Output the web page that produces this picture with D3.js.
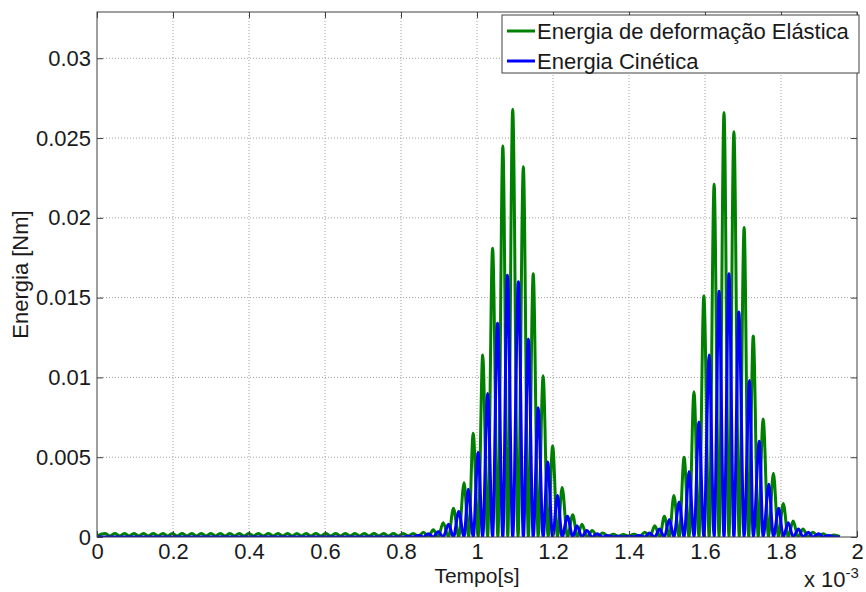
<!DOCTYPE html>
<html>
<head>
<meta charset="utf-8">
<script src="https://cdn.jsdelivr.net/npm/d3@7"></script>
<style>
  html, body { margin: 0; padding: 0; background: #fff; }
  svg { display: block; }
  text { font-family: "Liberation Sans", Arial, Helvetica, sans-serif; fill: #1a1a1a; }
</style>
</head>
<body>
<svg id="chart" width="866" height="592"></svg>
<script>
// ---------- DATA (time in units of 1e-3 s, energy in Nm) ----------
const xTicks = [0, 0.2, 0.4, 0.6, 0.8, 1, 1.2, 1.4, 1.6, 1.8, 2];
const xTickLabels = ["0", "0.2", "0.4", "0.6", "0.8", "1", "1.2", "1.4", "1.6", "1.8", "2"];
const yTicks = [0, 0.005, 0.01, 0.015, 0.02, 0.025, 0.03];
const yTickLabels = ["0", "0.005", "0.01", "0.015", "0.02", "0.025", "0.03"];
const seriesNames = ["Energia de deformação Elástica", "Energia Cinética"];

// Elastic (strain) energy: local maxima
const elasticPeakTime = [
  0.021, 0.047, 0.072, 0.097, 0.122, 0.148, 0.173, 0.198, 0.224, 0.249, 0.274, 0.300,
  0.324, 0.350, 0.374, 0.400, 0.424, 0.451, 0.476, 0.501, 0.526, 0.550, 0.576, 0.602,
  0.628, 0.653, 0.679, 0.703, 0.729, 0.754, 0.780, 0.806,
  0.832, 0.859, 0.885, 0.911, 0.938, 0.966, 0.990, 1.015, 1.041, 1.068, 1.094, 1.122,
  1.148, 1.174, 1.199, 1.224, 1.252, 1.276, 1.303, 1.331, 1.359, 1.385, 1.413, 1.442,
  1.468, 1.493, 1.518, 1.545, 1.571, 1.597, 1.624, 1.650, 1.676, 1.703, 1.727, 1.753,
  1.780, 1.806, 1.832, 1.858, 1.884, 1.911, 1.939
];
const elasticPeakEnergy = [
  0.00022, 0.00022, 0.00022, 0.00022, 0.00022, 0.00022, 0.00022, 0.00022, 0.00022, 0.00022, 0.00022, 0.00022,
  0.00022, 0.00022, 0.00022, 0.00022, 0.00022, 0.00022, 0.00022, 0.00022, 0.00022, 0.00022, 0.00022, 0.00022,
  0.00022, 0.00022, 0.00022, 0.00022, 0.00022, 0.00022, 0.00022, 0.00022,
  0.00022, 0.0003, 0.00045, 0.0009, 0.0018, 0.0034, 0.0065, 0.0114, 0.0181, 0.0245, 0.0268, 0.0232,
  0.0165, 0.0101, 0.0057, 0.0031, 0.0014, 0.0008, 0.0004, 0.00025, 0.00018, 0.00015, 0.00018, 0.0003,
  0.0007, 0.0013, 0.0026, 0.0050, 0.0091, 0.0151, 0.0221, 0.0266, 0.0254, 0.0194, 0.0126, 0.0074,
  0.0040, 0.0021, 0.0010, 0.0005, 0.0003, 0.0002, 0.00012
];
// Elastic energy: local minima
const elasticTroughTime = [
  0.000, 0.034, 0.060, 0.085, 0.110, 0.135, 0.161, 0.186, 0.211, 0.237, 0.262, 0.287,
  0.312, 0.337, 0.362, 0.387, 0.412, 0.438, 0.464, 0.489, 0.514, 0.538, 0.563, 0.589,
  0.615, 0.641, 0.666, 0.691, 0.716, 0.742, 0.767, 0.793, 0.819,
  0.846, 0.872, 0.898, 0.925, 0.952, 0.978, 1.003, 1.028, 1.055, 1.081, 1.108, 1.135,
  1.161, 1.187, 1.212, 1.238, 1.264, 1.290, 1.317, 1.345, 1.372, 1.399, 1.428, 1.455,
  1.481, 1.506, 1.532, 1.558, 1.584, 1.611, 1.637, 1.663, 1.690, 1.715, 1.740, 1.767,
  1.793, 1.819, 1.845, 1.871, 1.898, 1.925, 1.955
];
const elasticTroughEnergy = [
  0.00007, 0.00007, 0.00007, 0.00007, 0.00007, 0.00007, 0.00007, 0.00007, 0.00007, 0.00007, 0.00007, 0.00007,
  0.00007, 0.00007, 0.00007, 0.00007, 0.00007, 0.00007, 0.00007, 0.00007, 0.00007, 0.00007, 0.00007, 0.00007,
  0.00007, 0.00007, 0.00007, 0.00007, 0.00007, 0.00007, 0.00007, 0.00007, 0.00006,
  0.00004, 0.00002, 0, 0, 0, 0, 0, 0, 0, 0, 0, 0,
  0, 0, 0, 0, 0, 0, 0.00002, 0.00004, 0.00005, 0.00005, 0.00004, 0.00002,
  0, 0, 0, 0, 0, 0, 0, 0, 0, 0, 0, 0,
  0, 0, 0, 0.00002, 0.00003, 0.00003, 0.00003
];

// Kinetic energy: local maxima
const kineticPeakTime = [
  0.819, 0.846, 0.872, 0.898, 0.925, 0.952, 0.977, 1.003, 1.028, 1.054, 1.080, 1.109,
  1.135, 1.161, 1.186, 1.212, 1.238, 1.263, 1.289, 1.316, 1.342, 1.370, 1.399, 1.426,
  1.453, 1.480, 1.506, 1.532, 1.558, 1.584, 1.611, 1.637, 1.663, 1.689, 1.717, 1.743,
  1.768, 1.794, 1.819, 1.846, 1.872, 1.899, 1.926
];
const kineticPeakEnergy = [
  0.00005, 0.0001, 0.0002, 0.00035, 0.0008, 0.0016, 0.0030, 0.0053, 0.0090, 0.0134, 0.0164, 0.0160,
  0.0124, 0.0081, 0.0047, 0.0026, 0.0013, 0.0007, 0.0004, 0.0002, 0.0001, 0.00005, 0.00005, 0.0001,
  0.00025, 0.0005, 0.0011, 0.0022, 0.0041, 0.0072, 0.0114, 0.0154, 0.0165, 0.0141, 0.0098, 0.0060,
  0.0033, 0.0018, 0.0009, 0.0005, 0.0003, 0.0002, 0.0001
];
// Kinetic energy: local minima
const kineticTroughTime = [
  0.000, 0.806,
  0.832, 0.859, 0.885, 0.911, 0.938, 0.966, 0.990, 1.015, 1.041, 1.068, 1.094, 1.122,
  1.148, 1.174, 1.199, 1.224, 1.252, 1.276, 1.303, 1.331, 1.359, 1.385, 1.413, 1.442,
  1.468, 1.493, 1.518, 1.545, 1.571, 1.597, 1.624, 1.650, 1.676, 1.703, 1.727, 1.753,
  1.780, 1.806, 1.832, 1.858, 1.884, 1.911, 1.939, 1.955
];
const kineticTroughEnergy = [
  0, 0,
  0, 0, 0, 0, 0, 0, 0, 0, 0, 0, 0, 0,
  0, 0, 0, 0, 0, 0, 0, 0, 0, 0, 0, 0,
  0, 0, 0, 0, 0, 0, 0, 0, 0, 0, 0, 0,
  0, 0, 0, 0, 0, 0, 0, 0
];

// ---------- BUILD SERIES ----------
function merge(pt, pe, tt, te) {
  const pts = pt.map((t, i) => ({ t, e: pe[i] })).concat(tt.map((t, i) => ({ t, e: te[i] })));
  return pts.sort((a, b) => a.t - b.t);
}
const elastic = merge(elasticPeakTime, elasticPeakEnergy, elasticTroughTime, elasticTroughEnergy);
const kinetic = merge(kineticPeakTime, kineticPeakEnergy, kineticTroughTime, kineticTroughEnergy);

// ---------- LAYOUT ----------
const svg = d3.select("#chart");
const pL = 97, pR = 857, pT = 12, pB = 537;
const x = d3.scaleLinear().domain([0, 2]).range([pL, pR]);
const y = d3.scaleLinear().domain([0, 0.0329]).range([pB, pT]);
const axisColor = "#404040";
const fontSize = 22;
const lineW = 3;

// grid
const grid = svg.append("g");
grid.selectAll(".gx").data(xTicks.slice(1, -1)).join("line")
  .attr("x1", d => x(d)).attr("x2", d => x(d)).attr("y1", pT).attr("y2", pB)
  .attr("stroke", "#a0a0a0").attr("stroke-width", 1).attr("stroke-dasharray", "1,2");
grid.selectAll(".gy").data(yTicks.slice(1)).join("line")
  .attr("x1", pL).attr("x2", pR).attr("y1", d => y(d)).attr("y2", d => y(d))
  .attr("stroke", "#a0a0a0").attr("stroke-width", 1).attr("stroke-dasharray", "1,2");

// clip
svg.append("clipPath").attr("id", "clip").append("rect")
  .attr("x", pL).attr("y", pT).attr("width", pR - pL).attr("height", pB - pT);

const line = d3.line().x(d => x(d.t)).y(d => y(d.e)).curve(d3.curveMonotoneX);
const plot = svg.append("g").attr("clip-path", "url(#clip)");
plot.append("path").datum(elastic).attr("d", line)
  .attr("fill", "none").attr("stroke", "#008000").attr("stroke-width", lineW).attr("stroke-linejoin", "round");
plot.append("path").datum(kinetic).attr("d", line)
  .attr("fill", "none").attr("stroke", "#0000ff").attr("stroke-width", lineW).attr("stroke-linejoin", "round");

// axes (box with inward ticks)
const tickLen = 6;
const xb = svg.append("g").attr("transform", `translate(0,${pB})`)
  .call(d3.axisBottom(x).tickValues(xTicks).tickFormat((d, i) => xTickLabels[i]).tickSizeInner(-tickLen).tickSizeOuter(0).tickPadding(6));
const xt = svg.append("g").attr("transform", `translate(0,${pT})`)
  .call(d3.axisTop(x).tickValues(xTicks).tickFormat("").tickSizeInner(-tickLen).tickSizeOuter(0));
const yl = svg.append("g").attr("transform", `translate(${pL},0)`)
  .call(d3.axisLeft(y).tickValues(yTicks).tickFormat((d, i) => yTickLabels[i]).tickSizeInner(-tickLen).tickSizeOuter(0).tickPadding(6));
const yr = svg.append("g").attr("transform", `translate(${pR},0)`)
  .call(d3.axisRight(y).tickValues(yTicks).tickFormat("").tickSizeInner(-tickLen).tickSizeOuter(0));
[xb, xt, yl, yr].forEach(g => {
  g.select(".domain").remove();
  g.selectAll("line").attr("stroke", axisColor);
  g.selectAll("text").attr("font-size", fontSize).attr("fill", "#1a1a1a")
    .style("font-family", '"Liberation Sans", Arial, sans-serif');
});
svg.append("rect").attr("x", pL).attr("y", pT).attr("width", pR - pL).attr("height", pB - pT)
  .attr("fill", "none").attr("stroke", axisColor).attr("stroke-width", 1);

// axis labels
svg.append("text").attr("x", (pL + pR) / 2).attr("y", 583).attr("text-anchor", "middle")
  .attr("font-size", 21).text("Tempo[s]");
svg.append("text").attr("transform", `translate(28,${(pT + pB) / 2}) rotate(-90)`)
  .attr("text-anchor", "middle").attr("font-size", fontSize).text("Energia [Nm]");
const expo = svg.append("text").attr("x", 804).attr("y", 587).attr("font-size", fontSize);
expo.append("tspan").text("x 10");
expo.append("tspan").attr("dy", -9).attr("font-size", 15).text("-3");

// legend
const lg = svg.append("g");
lg.append("rect").attr("x", 502).attr("y", 15).attr("width", 357).attr("height", 58)
  .attr("fill", "#fff").attr("stroke", axisColor).attr("stroke-width", 1);
const colors = ["#008000", "#0000ff"];
seriesNames.forEach((name, i) => {
  const yy = 31 + i * 30;
  lg.append("line").attr("x1", 507).attr("x2", 535).attr("y1", yy).attr("y2", yy)
    .attr("stroke", colors[i]).attr("stroke-width", lineW);
  lg.append("text").attr("x", 537).attr("y", yy + 7.5).attr("font-size", fontSize).text(name);
});
</script>
</body>
</html>
